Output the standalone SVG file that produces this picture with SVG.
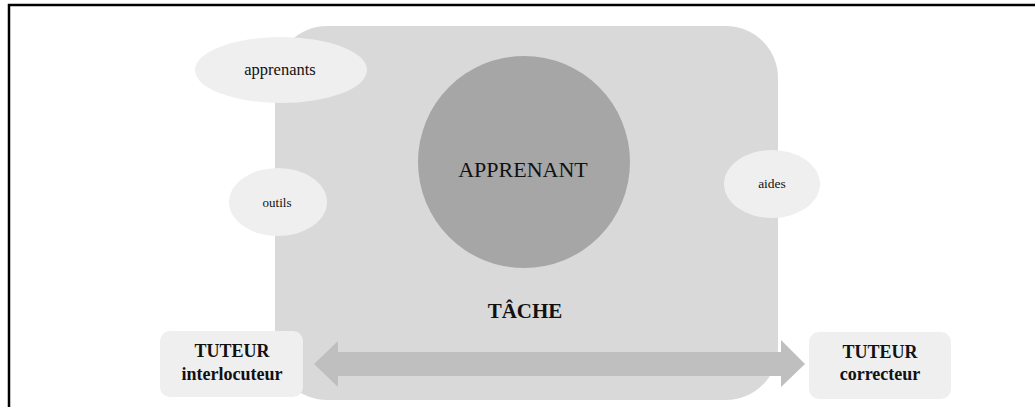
<svg xmlns="http://www.w3.org/2000/svg" width="1035" height="407" viewBox="0 0 1035 407">
<style>
text{font-family:"Liberation Serif","Times New Roman",serif;fill:#111;text-anchor:middle}
.bubble{fill:#efefef}
.box{fill:#efefef}
.b{font-weight:bold;font-size:18px}
</style>
<rect width="1035" height="407" fill="#fff"/>
<g id="frame" stroke="#000" stroke-width="2.5" fill="none">
<path d="M9 407 V5 H1035"/>
</g>
<g id="tache">
<rect x="275" y="26" width="503" height="374" rx="52" ry="52" fill="#d9d9d9"/>
<text x="525" y="318" font-size="21" font-weight="bold">TÂCHE</text>
</g>
<g id="apprenant">
<circle cx="524" cy="162" r="106" fill="#a6a6a6"/>
<text x="523" y="177" font-size="22">APPRENANT</text>
</g>
<g id="apprenants">
<ellipse class="bubble" cx="281" cy="70" rx="86" ry="33"/>
<text x="280" y="75" font-size="16.5">apprenants</text>
</g>
<g id="outils">
<ellipse class="bubble" cx="278" cy="202" rx="49" ry="34"/>
<text x="277" y="207" font-size="13">outils</text>
</g>
<g id="aides">
<ellipse class="bubble" cx="772" cy="184" rx="48" ry="34"/>
<text x="772" y="188" font-size="13.5">aides</text>
</g>
<g id="connectors">
<path d="M314 364 L338 341 V352 H781 V340 L805 364 L781 387 V376 H338 V387 Z" fill="#bfbfbf"/>
</g>
<g id="tuteur-interlocuteur">
<rect class="box" x="160" y="331" width="143" height="66" rx="10"/>
<text class="b" x="232" y="357">TUTEUR</text>
<text class="b" x="232" y="380">interlocuteur</text>
</g>
<g id="tuteur-correcteur">
<rect class="box" x="809" y="332" width="142" height="67" rx="10"/>
<text class="b" x="880" y="358">TUTEUR</text>
<text class="b" x="880" y="380">correcteur</text>
</g>
</svg>
